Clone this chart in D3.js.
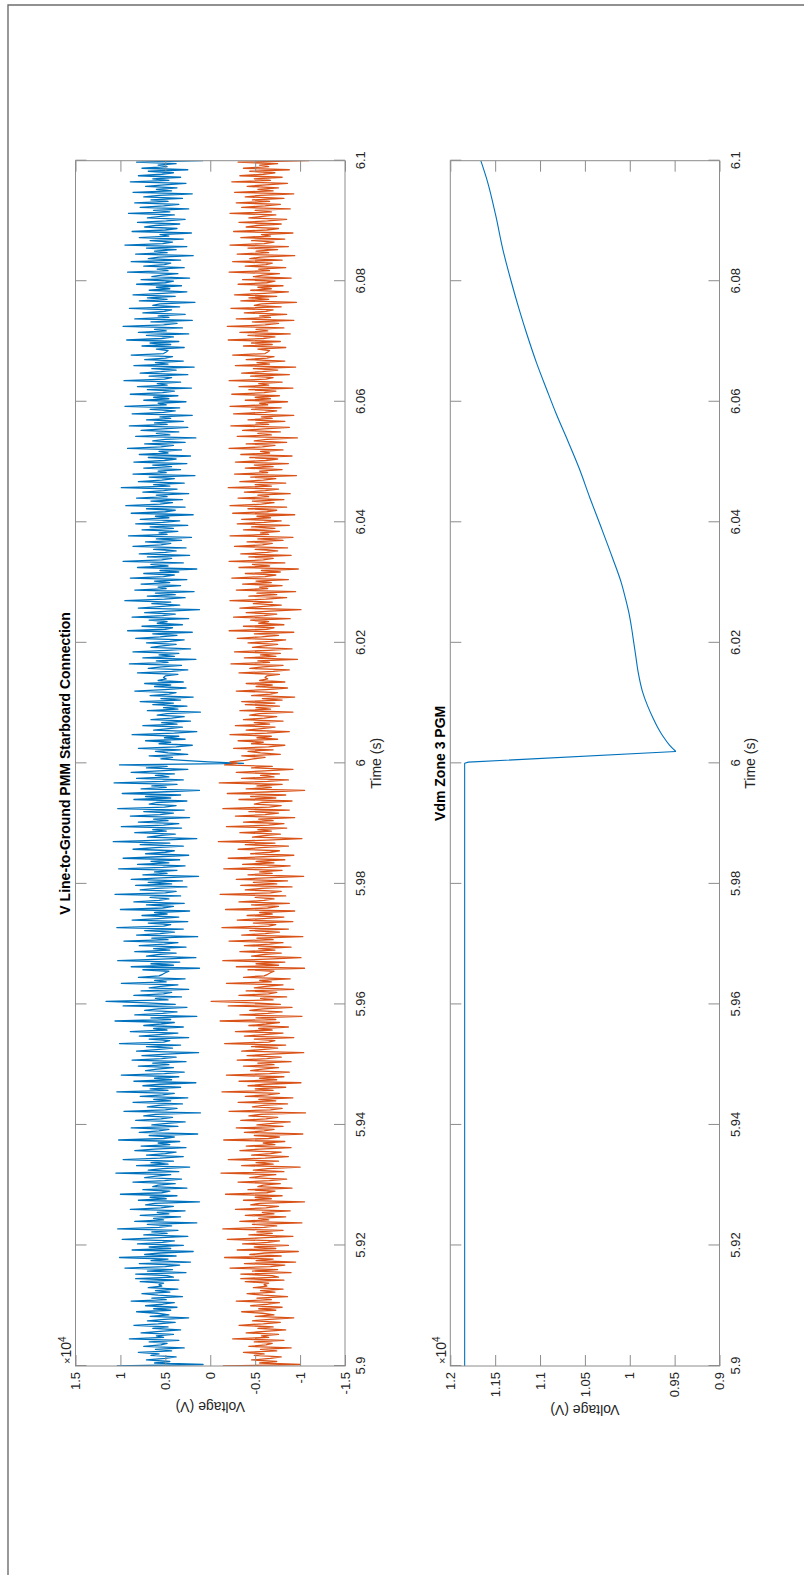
<!DOCTYPE html>
<html>
<head>
<meta charset="utf-8">
<script src="https://cdn.jsdelivr.net/npm/d3@7"></script>
<style>
  html, body { margin: 0; padding: 0; background: #ffffff; }
  svg { display: block; }
  text { font-family: "Liberation Sans", Arial, Helvetica, sans-serif; }
</style>
</head>
<body>
<script>
// ---- data -------------------------------------------------------------
// Line-to-ground voltage samples, hundreds of volts, one every 0.25 ms from 5.9 s
const sampleStart = 5.9;
const sampleStep = 0.00025;

const phaseA = [
  104, 8, 62, 45, 71, 50, 38, 66, 57, 80, 43, 61, 29, 74, 55, 48, 68, 35, 90, 52, 60, 41, 77, 56, 33, 64, 47, 85, 58, 39, 70, 51, 24, 67, 46, 59, 82, 44, 63, 37,
  72, 53, 40, 88, 49, 65, 31, 58, 76, 45, 61, 36, 69, 54, 57, 52, 78, 35, 83, 41, 48, 83, 27, 70, 42, 95, 50, 34, 79, 22, 66, 47, 101, 38, 73, 56, 19, 87, 44, 68,
  30, 81, 53, 40, 98, 61, 25, 74, 48, 65, 36, 103, 57, 43, 70, 15, 84, 52, 63, 33, 78, 46, 59, 28, 89, 55, 41, 72, 62, 12, 80, 49, 67, 37, 100, 54, 45, 75, 26, 64,
  58, 39, 86, 51, 32, 73, 60, 44, 105, 35, 69, 53, 23, 82, 47, 66, 41, 97, 56, 30, 71, 50, 38, 84, 62, 27, 77, 45, 58, 34, 102, 52, 40, 68, 14, 79, 57, 46, 88, 36,
  65, 48, 28, 83, 55, 42, 74, 61, 11, 96, 50, 37, 70, 58, 31, 86, 44, 63, 25, 78, 53, 40, 104, 47, 67, 33, 75, 56, 16, 85, 43, 62, 35, 99, 51, 29, 72, 59, 41, 80,
  46, 64, 27, 87, 54, 38, 76, 49, 13, 82, 60, 42, 71, 33, 101, 52, 45, 68, 24, 79, 57, 36, 89, 48, 63, 30, 74, 55, 40, 106, 44, 66, 15, 84, 53, 37, 73, 58, 26, 97,
  39, 70, 116, 47, 61, 32, 85, 52, 43, 77, 24, 68, 55, 36, 99, 49, 62, 28, 80, 57, 53, 50, 46, 75, 12, 88, 41, 66, 34, 103, 54, 16, 71, 59, 38, 84, 45, 63, 27, 79,
  51, 36, 96, 47, 65, 14, 82, 56, 40, 73, 30, 104, 52, 44, 69, 25, 87, 58, 35, 76, 48, 62, 23, 100, 53, 41, 71, 29, 85, 57, 46, 67, 33, 106, 50, 38, 78, 60, 26, 83,
  43, 69, 31, 88, 55, 13, 75, 48, 62, 37, 102, 53, 28, 81, 46, 66, 34, 97, 58, 24, 72, 50, 40, 86, 61, 30, 78, 45, 108, 54, 15, 70, 57, 39, 84, 49, 64, 32, 99, 52,
  35, 80, 47, 63, 23, 89, 56, 41, 74, 29, 103, 51, 38, 68, 60, 26, 85, 44, 72, 33, 98, 55, 12, 77, 49, 65, 37, 107, 53, 30, 82, 46, 61, 40, 88, 57, 25, 71, 48, 101,
  -37, 2, 30, 55, 42, 68, 25, 47, 61, 33, 80, 38, 20, 57, 44, 72, 28, 51, 35, 87, 40, 15, 63, 46, 31, 75, 37, 54, 22, 66, 43, 29, 59, 48, 11, 70, 36, 52, 26, 64,
  41, 78, 33, 55, 19, 67, 46, 38, 84, 51, 27, 62, 44, 73, 30, 58, 49, 52, 50, 36, 81, 43, 25, 69, 54, 32, 90, 47, 60, 16, 75, 40, 57, 35, 86, 48, 22, 66, 53, 38,
  71, 45, 29, 83, 56, 37, 64, 20, 92, 50, 42, 76, 31, 59, 48, 68, 24, 87, 53, 39, 73, 46, 12, 80, 57, 34, 65, 44, 95, 51, 28, 70, 39, 61, 18, 84, 49, 58, 33, 77,
  45, 62, 26, 89, 52, 40, 74, 35, 56, 15, 81, 47, 66, 30, 97, 54, 43, 70, 23, 79, 50, 38, 63, 27, 86, 55, 44, 72, 32, 60, 21, 91, 48, 57, 36, 76, 41, 67, 25, 83,
  53, 34, 78, 46, 61, 19, 88, 50, 39, 71, 28, 94, 56, 42, 66, 31, 82, 48, 60, 24, 75, 52, 37, 99, 45, 63, 29, 80, 54, 40, 68, 17, 86, 49, 58, 33, 74, 43, 64, 26,
  85, 51, 38, 69, 22, 79, 47, 57, 32, 92, 55, 41, 73, 28, 64, 50, 16, 83, 45, 60, 35, 77, 53, 25, 90, 48, 62, 30, 71, 44, 56, 20, 87, 52, 39, 67, 34, 95, 49, 58,
  27, 74, 46, 63, 36, 89, 53, 40, 70, 21, 81, 48, 59, 33, 96, 51, 43, 68, 25, 78, 55, 38, 65, 18, 85, 47, 61, 30, 73, 50, 42, 88, 52, 49, 47, 60, 29, 76, 44, 67,
  35, 93, 54, 41, 71, 24, 80, 49, 62, 31, 97, 52, 37, 66, 20, 84, 46, 58, 28, 75, 51, 43, 90, 34, 64, 56, 17, 79, 48, 70, 39, 86, 53, 26, 68, 45, 60, 32, 82, 50,
  41, 77, 23, 65, 54, 36, 92, 47, 59, 29, 74, 51, 44, 88, 33, 69, 57, 19, 83, 48, 62, 38, 71, 26, 95, 53, 42, 67, 30, 79, 46, 56, 21, 87, 50, 37, 73, 61, 34, 81,
  49, 28, 70, 55, 40, 91, 45, 63, 24, 78, 52, 35, 84, 47, 66, 31, 74, 57, 20, 86, 43, 60, 37, 72, 51, 27, 89, 46, 64, 33, 80, 54, 41, 69, 25, 76, 48, 58, 38, 82,
  8
];

const phaseB = [
  -14, -100, -55, -74, -46, -67, -79, -49, -60, -37, -74, -56, -90, -43, -62, -69, -49, -82, -25, -65, -57, -76, -40, -61, -84, -53, -70, -32, -59, -78, -47, -66, -93, -50, -71, -58, -35, -73, -54, -80,
  -45, -64, -77, -29, -68, -52, -86, -59, -41, -72, -56, -81, -48, -63, -60, -65, -39, -82, -34, -76, -69, -34, -90, -47, -75, -22, -67, -83, -38, -95, -51, -70, -16, -79, -44, -61, -98, -30, -73, -49,
  -87, -36, -64, -77, -19, -56, -92, -43, -69, -52, -81, -14, -60, -74, -47, -102, -33, -65, -54, -84, -39, -71, -58, -89, -28, -62, -76, -45, -55, -105, -37, -68, -50, -80, -17, -63, -72, -42, -91, -53,
  -59, -78, -31, -66, -85, -44, -57, -73, -12, -82, -48, -64, -100, -35, -70, -51, -76, -20, -61, -87, -46, -67, -79, -33, -55, -90, -40, -72, -59, -83, -15, -65, -77, -49, -103, -38, -60, -71, -29, -81,
  -52, -69, -89, -34, -62, -75, -43, -56, -106, -21, -67, -80, -47, -59, -86, -31, -73, -54, -92, -39, -64, -77, -13, -70, -50, -84, -42, -61, -101, -32, -74, -55, -82, -18, -66, -88, -45, -58, -76, -37,
  -71, -53, -90, -30, -63, -79, -41, -68, -104, -35, -57, -75, -46, -84, -16, -65, -72, -49, -93, -38, -60, -81, -28, -69, -54, -87, -43, -62, -77, -11, -73, -51, -102, -33, -64, -80, -44, -59, -91, -20,
  -78, -47, -1, -70, -56, -85, -32, -65, -74, -40, -93, -49, -62, -81, -18, -68, -55, -89, -37, -60, -64, -67, -71, -42, -105, -29, -76, -51, -83, -14, -63, -101, -46, -58, -79, -33, -72, -54, -90, -38,
  -66, -81, -21, -70, -52, -103, -35, -61, -77, -44, -87, -13, -65, -73, -48, -92, -30, -59, -82, -41, -69, -55, -94, -17, -64, -76, -46, -88, -32, -60, -71, -50, -84, -11, -67, -79, -39, -57, -91, -34,
  -74, -48, -86, -29, -62, -104, -42, -69, -55, -80, -15, -64, -89, -36, -71, -51, -83, -20, -59, -93, -45, -67, -77, -31, -56, -87, -39, -72, -9, -63, -102, -47, -60, -78, -33, -68, -53, -85, -18, -65,
  -82, -37, -70, -54, -94, -28, -61, -76, -43, -88, -14, -66, -79, -49, -57, -91, -32, -73, -45, -84, -19, -62, -105, -40, -68, -52, -80, -10, -64, -87, -35, -71, -56, -77, -29, -60, -92, -46, -69, -16,
  -30, -22, -38, -48, -61, -35, -78, -56, -42, -70, -26, -65, -83, -46, -59, -31, -75, -52, -68, -22, -63, -88, -40, -57, -72, -28, -66, -49, -81, -37, -60, -74, -44, -55, -92, -33, -67, -51, -77, -39,
  -72, -35, -80, -58, -94, -46, -67, -75, -29, -62, -86, -51, -69, -40, -83, -55, -64, -61, -63, -77, -32, -70, -88, -44, -59, -81, -23, -66, -53, -97, -38, -73, -56, -78, -27, -65, -91, -47, -60, -75,
  -42, -68, -84, -30, -57, -76, -49, -93, -21, -63, -71, -37, -82, -54, -65, -45, -89, -26, -60, -74, -40, -67, -101, -33, -56, -79, -48, -69, -22, -62, -85, -43, -74, -52, -95, -29, -64, -55, -80, -36,
  -68, -51, -87, -24, -61, -73, -39, -78, -57, -98, -32, -66, -47, -83, -21, -59, -70, -43, -90, -34, -63, -75, -50, -86, -27, -58, -69, -41, -81, -53, -92, -22, -65, -56, -77, -37, -72, -46, -88, -30,
  -60, -79, -35, -67, -52, -94, -25, -63, -74, -42, -85, -22, -57, -71, -47, -82, -31, -65, -53, -89, -38, -61, -76, -20, -68, -50, -84, -33, -59, -73, -45, -96, -27, -64, -55, -80, -39, -70, -49, -87,
  -28, -62, -75, -44, -91, -34, -66, -56, -81, -21, -58, -72, -40, -85, -49, -63, -97, -30, -68, -53, -78, -36, -60, -88, -23, -65, -51, -83, -42, -69, -57, -93, -26, -61, -74, -46, -79, -22, -64, -55,
  -86, -39, -67, -50, -77, -24, -60, -73, -43, -92, -32, -65, -54, -80, -21, -62, -70, -45, -88, -35, -58, -75, -48, -95, -28, -66, -52, -83, -40, -63, -71, -25, -61, -64, -66, -53, -84, -37, -69, -46,
  -78, -20, -59, -72, -42, -89, -33, -64, -51, -82, -19, -61, -76, -47, -93, -29, -67, -55, -85, -38, -62, -70, -23, -79, -49, -57, -96, -34, -65, -43, -74, -27, -60, -87, -45, -68, -53, -81, -31, -63,
  -72, -36, -90, -48, -59, -77, -21, -66, -54, -84, -39, -62, -69, -25, -80, -44, -56, -94, -30, -65, -51, -75, -42, -87, -22, -60, -71, -46, -83, -34, -67, -57, -92, -26, -63, -76, -40, -52, -79, -32,
  -64, -85, -43, -58, -73, -22, -68, -50, -89, -35, -61, -78, -29, -66, -47, -82, -39, -56, -93, -27, -70, -53, -76, -41, -62, -86, -24, -67, -49, -80, -33, -59, -72, -44, -88, -37, -65, -55, -75, -31,
  -110
];

// Zone 3 PGM DC voltage (volts) at irregular times (s)
const vdmTime = [5.9, 6.0, 6.0002, 6.00197,
  6.0030, 6.0045, 6.0060, 6.0075, 6.0095, 6.0120, 6.0150, 6.0180, 6.0200, 6.0225,
  6.0250, 6.0275, 6.0300, 6.0340, 6.0390, 6.0440, 6.0490, 6.0535, 6.0580, 6.0620,
  6.0665, 6.0710, 6.0755, 6.0800, 6.0850, 6.0910, 6.0965, 6.1];
const vdmVolts = [11840, 11840, 11800, 9486,
  9555, 9630, 9690, 9740, 9800, 9860, 9905, 9935, 9955, 9980,
  10010, 10050, 10095, 10190, 10315, 10443, 10565, 10690, 10820, 10925,
  11040, 11142, 11236, 11322, 11410, 11495, 11585, 11660];

// ticks
const timeTicks = [5.9, 5.92, 5.94, 5.96, 5.98, 6.0, 6.02, 6.04, 6.06, 6.08, 6.1];
const timeTickLabels = ["5.9", "5.92", "5.94", "5.96", "5.98", "6", "6.02", "6.04", "6.06", "6.08", "6.1"];
const lgTicks = [-15000, -10000, -5000, 0, 5000, 10000, 15000];
const lgTickLabels = ["-1.5", "-1", "-0.5", "0", "0.5", "1", "1.5"];
const vdmTicks = [9000, 9500, 10000, 10500, 11000, 11500, 12000];
const vdmTickLabels = ["0.9", "0.95", "1", "1.05", "1.1", "1.15", "1.2"];

const titles = ["V Line-to-Ground PMM Starboard Connection", "Vdm Zone 3 PGM"];
const xLabel = "Time (s)";
const yLabel = "Voltage (V)";
const seriesColors = ["#0072BD", "#D95319"];

// ---- drawing ----------------------------------------------------------
const W = 804, H = 1575;
const svg = d3.select("body").append("svg").attr("width", W).attr("height", H);

// figure window edge
svg.append("path")
  .attr("d", `M8,${H} V5 H${W}`)
  .attr("fill", "none")
  .attr("stroke", "#6e6e6e")
  .attr("stroke-width", 1.4);

// the figure is laid out landscape and turned a quarter turn counter-clockwise
const fig = svg.append("g").attr("transform", `translate(0,${H}) rotate(-90)`);

const x = d3.scaleLinear().domain([5.9, 6.1]).range([209, 1414.3]);
const sampleTimes = phaseA.map((_, i) => sampleStart + i * sampleStep);

const panels = [
  { top: 75.5, bottom: 345, domain: [-15000, 15000], ticks: lgTicks, labels: lgTickLabels, title: titles[0], ylabX: 173 },
  { top: 450.3, bottom: 719.5, domain: [9000, 12000], ticks: vdmTicks, labels: vdmTickLabels, title: titles[1], ylabX: 170 }
];

const axisColor = "#262626";
const boxColor = "#8c8c8c";
const tickLen = 11;

panels.forEach((p, k) => {
  const y = d3.scaleLinear().domain(p.domain).range([p.bottom, p.top]);
  const g = fig.append("g");

  const clipId = "clip" + k;
  g.append("clipPath").attr("id", clipId)
    .append("rect")
    .attr("x", x.range()[0]).attr("y", p.top)
    .attr("width", x.range()[1] - x.range()[0]).attr("height", p.bottom - p.top);

  const plot = g.append("g").attr("clip-path", `url(#${clipId})`);
  if (k === 0) {
    [phaseA, phaseB].forEach((series, s) => {
      const line = d3.line()
        .x((d, i) => x(sampleTimes[i]))
        .y(d => y(d * 100));
      plot.append("path")
        .datum(series)
        .attr("d", line)
        .attr("fill", "none")
        .attr("stroke", seriesColors[s])
        .attr("stroke-width", 1.3)
        .attr("stroke-linejoin", "round");
    });
  } else {
    const pts = vdmTime.map((t, i) => [t, vdmVolts[i]]);
    const lowest = d3.minIndex(vdmVolts);
    // the collapse is drawn straight, the recovery as a smooth monotone curve
    const drop = d3.line().x(d => x(d[0])).y(d => y(d[1]));
    const recovery = d3.line().x(d => x(d[0])).y(d => y(d[1])).curve(d3.curveMonotoneX);
    [[pts.slice(0, lowest + 1), drop], [pts.slice(lowest), recovery]].forEach(([seg, gen]) => {
      plot.append("path")
        .datum(seg)
        .attr("d", gen)
        .attr("fill", "none")
        .attr("stroke", seriesColors[0])
        .attr("stroke-width", 1.1)
        .attr("stroke-linejoin", "round");
    });
  }

  // time axis with labels (original bottom edge)
  const ax = g.append("g").attr("transform", `translate(0,${p.bottom})`)
    .call(d3.axisBottom(x).tickValues(timeTicks)
      .tickFormat((d, i) => timeTickLabels[i])
      .tickSizeInner(-tickLen).tickSizeOuter(0).tickPadding(10.8));
  // time axis ticks on the opposite edge
  const axTop = g.append("g").attr("transform", `translate(0,${p.top})`)
    .call(d3.axisTop(x).tickValues(timeTicks).tickFormat("")
      .tickSizeInner(-tickLen).tickSizeOuter(0));
  // voltage axis with labels
  const ay = g.append("g").attr("transform", `translate(${x.range()[0]},0)`)
    .call(d3.axisLeft(y).tickValues(p.ticks)
      .tickFormat((d, i) => p.labels[i])
      .tickSizeInner(-tickLen).tickSizeOuter(0).tickPadding(6));
  const ayR = g.append("g").attr("transform", `translate(${x.range()[1]},0)`)
    .call(d3.axisRight(y).tickValues(p.ticks).tickFormat("")
      .tickSizeInner(-tickLen).tickSizeOuter(0));

  [ax, axTop, ay, ayR].forEach(a => {
    a.select(".domain").remove();
    a.selectAll(".tick line").attr("stroke", boxColor).attr("stroke-width", 1);
    a.selectAll(".tick text").attr("fill", axisColor).style("font-size", "13px")
      .style("font-family", '"Liberation Sans", Arial, sans-serif');
  });

  // box
  g.append("rect")
    .attr("x", x.range()[0]).attr("y", p.top)
    .attr("width", x.range()[1] - x.range()[0]).attr("height", p.bottom - p.top)
    .attr("fill", "none").attr("stroke", boxColor).attr("stroke-width", 1);

  // title
  g.append("text")
    .attr("x", (x.range()[0] + x.range()[1]) / 2)
    .attr("y", p.top - 5.5)
    .attr("text-anchor", "middle")
    .attr("font-weight", "bold")
    .attr("font-size", 14)
    .attr("fill", "#000")
    .text(p.title);

  // x label
  g.append("text")
    .attr("x", (x.range()[0] + x.range()[1]) / 2)
    .attr("y", p.bottom + 35.5)
    .attr("text-anchor", "middle")
    .attr("font-size", 14)
    .attr("fill", axisColor)
    .text(xLabel);

  // y label
  const cy = (p.top + p.bottom) / 2;
  g.append("text")
    .attr("transform", `translate(${p.ylabX},${cy}) rotate(-90)`)
    .attr("text-anchor", "middle")
    .attr("font-size", 14)
    .attr("fill", axisColor)
    .text(yLabel);

  // exponent label
  const ex = g.append("text")
    .attr("x", x.range()[0] + 2)
    .attr("y", p.top - 4.5)
    .attr("font-size", 14)
    .attr("fill", axisColor);
  ex.append("tspan").attr("font-size", 11).text("\u00d7");
  ex.append("tspan").text("10");
  ex.append("tspan").attr("font-size", 10).attr("dy", -5.5).text("4");
});
</script>
</body>
</html>
